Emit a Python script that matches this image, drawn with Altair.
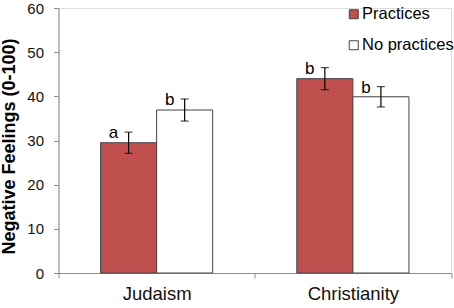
import altair as alt
import pandas as pd

religions = ["Judaism", "Judaism", "Christianity", "Christianity"]
groups = ["Practices", "No practices", "Practices", "No practices"]
means = [29.5, 36.9, 44.0, 39.9]
errors = [2.4, 2.5, 2.5, 2.3]
letters = ["a", "b", "b", "b"]

religion_order = ["Judaism", "Christianity"]
group_order = ["Practices", "No practices"]
colors = ["#C0504D", "#FFFFFF"]

df = pd.DataFrame({
    "religion": religions,
    "group": groups,
    "mean": means,
    "lo": [m - e for m, e in zip(means, errors)],
    "hi": [m + e for m, e in zip(means, errors)],
    "letter": letters,
})

FONT = "Liberation Sans"

x_enc = alt.X(
    "religion:N",
    sort=religion_order,
    scale=alt.Scale(paddingInner=0, paddingOuter=0),
    axis=alt.Axis(
        title=None, labelAngle=0, tickBand="extent", labelFontSize=18.5,
        labelColor="#111", domainColor="#8c8c8c", tickColor="#8c8c8c",
        tickSize=5, labelPadding=6, labelFont=FONT,
    ),
)
xo_enc = alt.XOffset(
    "group:N", sort=group_order,
    scale=alt.Scale(paddingInner=0, paddingOuter=0.75),
)

base = alt.Chart(df)

bars = base.mark_bar(stroke="#444", strokeWidth=1).encode(
    x=x_enc,
    xOffset=xo_enc,
    y=alt.Y(
        "mean:Q",
        scale=alt.Scale(domain=[0, 60], nice=False),
        axis=alt.Axis(
            title="Negative Feelings (0-100)", values=[0, 10, 20, 30, 40, 50, 60],
            grid=False, labelFontSize=15, labelColor="#111", labelFont=FONT,
            titleFont=FONT, titleFontSize=18, titleFontWeight="bold",
            titleColor="#000", titlePadding=8, titleY=138, domainColor="#8c8c8c",
            tickColor="#8c8c8c", tickSize=5, labelPadding=10,
        ),
    ),
    fill=alt.Fill(
        "group:N", sort=group_order,
        scale=alt.Scale(domain=group_order, range=colors),
        legend=alt.Legend(
            title=None, orient="none", legendX=287, legendY=-2,
            symbolType="square", symbolSize=81, symbolStrokeColor="#444",
            symbolStrokeWidth=1, labelFontSize=16.5, labelFont=FONT,
            labelColor="#000", rowPadding=14, labelOffset=0,
        ),
    ),
)

rules = base.mark_rule(color="#000", strokeWidth=1.2).encode(
    x=alt.X("religion:N", sort=religion_order),
    xOffset=alt.XOffset("group:N", sort=group_order),
    y="lo:Q",
    y2="hi:Q",
)

cap_hi = base.mark_tick(color="#000", size=8, thickness=1.2).encode(
    x=alt.X("religion:N", sort=religion_order),
    xOffset=alt.XOffset("group:N", sort=group_order),
    y="hi:Q",
)
cap_lo = base.mark_tick(color="#000", size=8, thickness=1.2).encode(
    x=alt.X("religion:N", sort=religion_order),
    xOffset=alt.XOffset("group:N", sort=group_order),
    y="lo:Q",
)

labels = base.mark_text(
    fontSize=17, font=FONT, color="#000", dx=-15, dy=6, baseline="alphabetic"
).encode(
    x=alt.X("religion:N", sort=religion_order),
    xOffset=alt.XOffset("group:N", sort=group_order),
    y="hi:Q",
    text="letter:N",
)

chart = (
    alt.layer(bars, rules, cap_hi, cap_lo, labels)
    .properties(
        width=392.5, height=265,
        padding={"left": 58.5, "top": 8, "right": 3, "bottom": 35},
        autosize=alt.AutoSizeParams(type="none"),
    )
    .configure_view(stroke=None)
    .configure(background="white")
)

chart.save("out.html", embed_options={"renderer": "svg", "actions": False})
